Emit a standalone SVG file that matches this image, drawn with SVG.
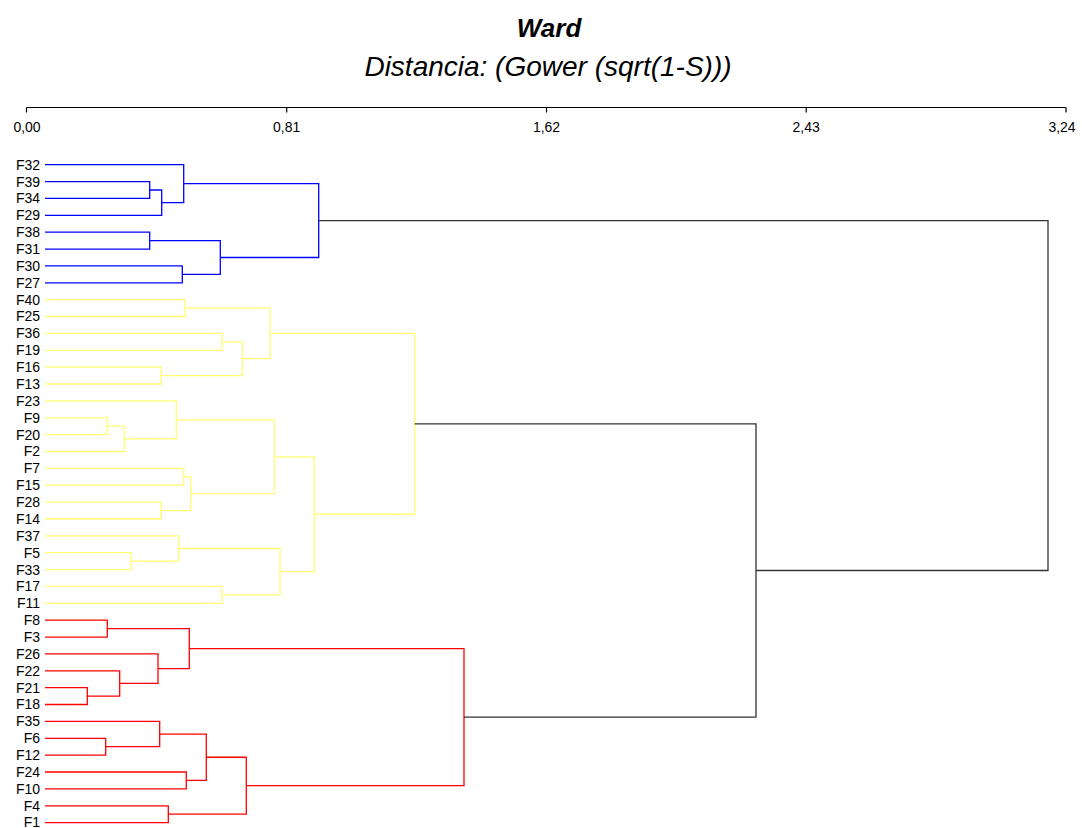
<svg xmlns="http://www.w3.org/2000/svg" width="1082" height="828" viewBox="0 0 1082 828">
<style>
.t{font-family:"Liberation Sans",Arial,sans-serif;fill:#000}
.title{font-size:26px;font-weight:bold;font-style:italic;text-anchor:middle}
.sub{font-size:28px;font-style:italic;text-anchor:middle}
.ax{font-size:14px;text-anchor:middle}
.lb{font-size:14px;text-anchor:end}
.c{fill:none;stroke-width:1.3}
.blue{stroke:#0000ff}
.yel{stroke:#ffff70}
.red{stroke:#ff0000}
.blk{stroke:#333333}
</style>
<rect width="1082" height="828" fill="#ffffff"/>
<g id="title">
<text class="t title" x="549" y="36.5">Ward</text>
<text class="t sub" x="548" y="75.5">Distancia: (Gower (sqrt(1-S)))</text>
</g>
<g id="axis">
<path d="M26.5 107.5 H1066 M26.5 107.5 V112.5 M286.7 107.5 V112.5 M546.5 107.5 V112.5 M806.2 107.5 V112.5 M1066 107.5 V112.5" stroke="#000" stroke-width="1.2" fill="none"/>
<text class="t ax" x="27" y="132">0,00</text>
<text class="t ax" x="286.7" y="132">0,81</text>
<text class="t ax" x="546.5" y="132">1,62</text>
<text class="t ax" x="806.2" y="132">2,43</text>
<text class="t ax" x="1062" y="132">3,24</text>
</g>
<g id="leaves">
<g id="F32"><text class="t lb" x="40" y="169.6">F32</text></g>
<g id="F39"><text class="t lb" x="40" y="186.5">F39</text></g>
<g id="F34"><text class="t lb" x="40" y="203.3">F34</text></g>
<g id="F29"><text class="t lb" x="40" y="220.2">F29</text></g>
<g id="F38"><text class="t lb" x="40" y="237.1">F38</text></g>
<g id="F31"><text class="t lb" x="40" y="254.0">F31</text></g>
<g id="F30"><text class="t lb" x="40" y="270.8">F30</text></g>
<g id="F27"><text class="t lb" x="40" y="287.7">F27</text></g>
<g id="F40"><text class="t lb" x="40" y="304.6">F40</text></g>
<g id="F25"><text class="t lb" x="40" y="321.4">F25</text></g>
<g id="F36"><text class="t lb" x="40" y="338.3">F36</text></g>
<g id="F19"><text class="t lb" x="40" y="355.2">F19</text></g>
<g id="F16"><text class="t lb" x="40" y="372.0">F16</text></g>
<g id="F13"><text class="t lb" x="40" y="388.9">F13</text></g>
<g id="F23"><text class="t lb" x="40" y="405.8">F23</text></g>
<g id="F9"><text class="t lb" x="40" y="422.7">F9</text></g>
<g id="F20"><text class="t lb" x="40" y="439.5">F20</text></g>
<g id="F2"><text class="t lb" x="40" y="456.4">F2</text></g>
<g id="F7"><text class="t lb" x="40" y="473.3">F7</text></g>
<g id="F15"><text class="t lb" x="40" y="490.1">F15</text></g>
<g id="F28"><text class="t lb" x="40" y="507.0">F28</text></g>
<g id="F14"><text class="t lb" x="40" y="523.9">F14</text></g>
<g id="F37"><text class="t lb" x="40" y="540.7">F37</text></g>
<g id="F5"><text class="t lb" x="40" y="557.6">F5</text></g>
<g id="F33"><text class="t lb" x="40" y="574.5">F33</text></g>
<g id="F17"><text class="t lb" x="40" y="591.3">F17</text></g>
<g id="F11"><text class="t lb" x="40" y="608.2">F11</text></g>
<g id="F8"><text class="t lb" x="40" y="625.1">F8</text></g>
<g id="F3"><text class="t lb" x="40" y="642.0">F3</text></g>
<g id="F26"><text class="t lb" x="40" y="658.8">F26</text></g>
<g id="F22"><text class="t lb" x="40" y="675.7">F22</text></g>
<g id="F21"><text class="t lb" x="40" y="692.6">F21</text></g>
<g id="F18"><text class="t lb" x="40" y="709.4">F18</text></g>
<g id="F35"><text class="t lb" x="40" y="726.3">F35</text></g>
<g id="F6"><text class="t lb" x="40" y="743.2">F6</text></g>
<g id="F12"><text class="t lb" x="40" y="760.0">F12</text></g>
<g id="F24"><text class="t lb" x="40" y="776.9">F24</text></g>
<g id="F10"><text class="t lb" x="40" y="793.8">F10</text></g>
<g id="F4"><text class="t lb" x="40" y="810.7">F4</text></g>
<g id="F1"><text class="t lb" x="40" y="827">F1</text></g>
</g>
<g id="connectors">
<path class="c blue" d="M45 181.6 H149.7 V198.4 H45 M149.7 190 H161.7 V215.3 H45 M45 164.7 H183.7 V202.65 H161.7 M45 232.2 H149.7 V249.1 H45 M45 265.9 H182.3 V282.8 H45 M149.7 240.65 H220.3 V274.35 H182.3 M183.7 183.7 H318.7 V257.5 H220.3"/>
<path class="c yel" d="M45 299.7 H185 V316.5 H45 M45 333.4 H222 V350.3 H45 M45 367.1 H161.3 V384 H45 M222 341.85 H242.3 V375.55 H161.3 M185 308.1 H270 V358.7 H242.3 M45 417.8 H107.3 V434.6 H45 M107.3 426.2 H124.3 V451.5 H45 M45 400.9 H176.3 V438.85 H124.3 M45 468.4 H183.7 V485.2 H45 M45 502.1 H161.3 V519 H45 M183.7 476.8 H190.7 V510.55 H161.3 M176.3 419.9 H274.3 V493.7 H190.7 M45 552.7 H131.3 V569.6 H45 M45 535.8 H178.7 V561.15 H131.3 M45 586.4 H222 V603.3 H45 M178.7 548.5 H280 V594.85 H222 M274.3 456.8 H314.3 V571.7 H280 M270 333.4 H414.7 V514.25 H314.3"/>
<path class="c red" d="M45 620.2 H107.3 V637.1 H45 M45 687.7 H87.3 V704.5 H45 M45 670.8 H119.7 V696.1 H87.3 M45 653.9 H158 V683.45 H119.7 M107.3 628.65 H189.3 V668.7 H158 M45 738.3 H105.7 V755.1 H45 M45 721.4 H159.7 V746.7 H105.7 M45 772 H186.3 V788.9 H45 M159.7 734.05 H206.3 V780.45 H186.3 M45 805.8 H168.3 V822.6 H45 M206.3 757.25 H246.3 V814.2 H168.3 M189.3 648.7 H464 V785.7 H246.3"/>
<path class="c blk" d="M414.7 423.8 H756 V717.2 H464 M318.7 220.6 H1048 V570.5 H756"/>
</g>
</svg>
